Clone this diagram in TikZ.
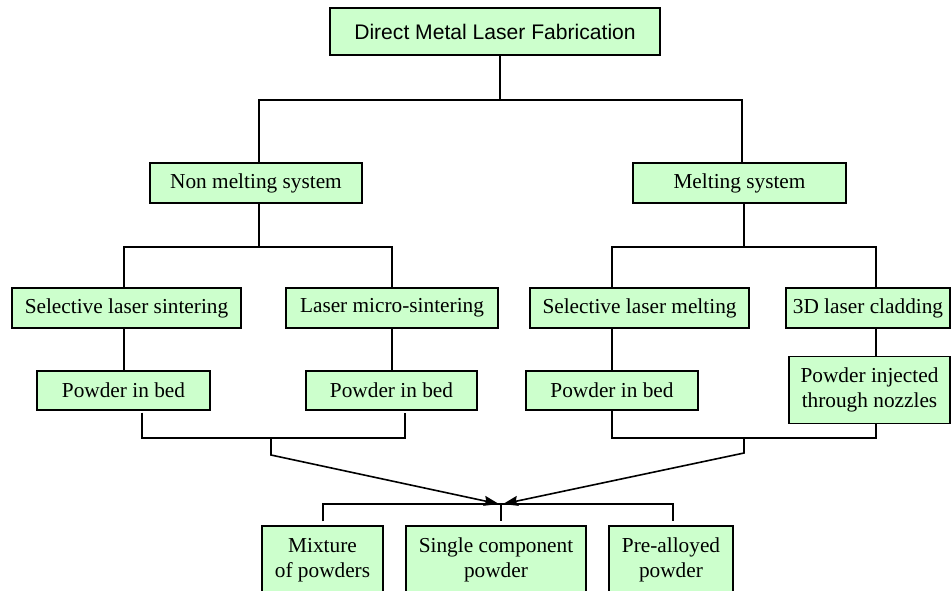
\documentclass[tikz,border=0pt]{standalone}
\usepackage{fontspec}
\setmainfont{Liberation Serif}
\newfontfamily\headfont{Liberation Sans}
\usetikzlibrary{arrows.meta}
\definecolor{boxgreen}{HTML}{CCFFCC}

\begin{document}
\begin{tikzpicture}[
    x=1pt, y=-1pt,
    box/.style={rectangle, draw, fill=boxgreen, line width=1.4pt, inner sep=0pt,
        minimum height=40pt, align=center, font=\fontsize{21.3}{25}\selectfont},
    tallbox/.style={box, minimum height=67pt},
    link/.style={draw, line width=1.6pt},
    arrowstyle/.style={link, -{Stealth[length=15pt, width=10pt, inset=2pt]}}
]
\useasboundingbox (0,0) rectangle (952,590);
\clip (0,0) rectangle (952,590);
% top
\node (Fabrication) [box, minimum width=330pt, minimum height=47pt,
    font=\headfont\fontsize{21.1}{25}\selectfont] at (495,31.5) {Direct Metal Laser Fabrication};
% systems
\node (NonMelting) [box, minimum width=212pt] at (256,183) {Non melting system};
\node (Melting) [box, minimum width=213pt] at (739.5,183) {Melting system};
% processes
\node (Sintering01) [box, minimum width=229pt] at (126.5,308) {Selective laser sintering};
\node (Sintering02) [box, minimum width=212pt] at (392,308) {Laser micro-sintering};
\node (Melting01) [box, minimum width=219pt] at (639.5,308) {Selective laser melting};
\node (Cladding01) [box, minimum width=164pt] at (868,308) {3D laser cladding};
% feeding
\node (Powder01) [box, minimum width=173pt, minimum height=39pt] at (123.5,390.5) {Powder in bed};
\node (Powder02) [box, minimum width=171pt, minimum height=39pt] at (391.5,390.5) {Powder in bed};
\node (Powder03) [box, minimum width=172pt, minimum height=39pt] at (612,390.5) {Powder in bed};
\node (Powder04) [tallbox, minimum width=161pt] at (869.5,390) {Powder injected\\through nozzles};
% materials
\node (Mixture) [tallbox, minimum width=121pt, minimum height=68pt] at (322.5,560) {Mixture\\of powders};
\node (Single) [tallbox, minimum width=180pt, minimum height=68pt] at (496,560) {Single component\\powder};
\node (Alloyed) [tallbox, minimum width=124pt, minimum height=68pt] at (671,560) {Pre-alloyed\\powder};

% tree links
\coordinate (Fork01) at (500,100);
\draw[link] ([xshift=5]Fabrication.south) -- (Fork01);
\draw[link] ([xshift=3]NonMelting.north) |- (Fork01) -| ([xshift=2.5]Melting.north);
\coordinate (Fork02) at (259,247);
\draw[link] ([xshift=3]NonMelting.south) -- (Fork02);
\draw[link] ([xshift=-2.5]Sintering01.north) |- (Fork02) -| (Sintering02.north);
\coordinate (Fork03) at (744,247);
\draw[link] ([xshift=4.5]Melting.south) -- (Fork03);
\draw[link] ([xshift=-27.5]Melting01.north) |- (Fork03) -| ([xshift=8]Cladding01.north);
\draw[link] ([xshift=-2.5]Sintering01.south) -- ([xshift=0.5]Powder01.north);
\draw[link] (Sintering02.south) -- ([xshift=0.5]Powder02.north);
\draw[link] ([xshift=-27.5]Melting01.south) -- (Powder03.north);
\draw[link] ([xshift=8]Cladding01.south) -- ([xshift=6.5]Powder04.north);

% merging into the powders
\coordinate (Merge01) at (271,438);
\coordinate (Merge02) at (744,438);
\coordinate (Junction) at (501,504);
\draw[link] ([xshift=18.5,yshift=-2]Powder01.south) |- (Merge01) -| ([xshift=13.5,yshift=-2]Powder02.south);
\draw[link] (Powder03.south) |- (Merge02) -| ([xshift=6.5]Powder04.south);
\draw[arrowstyle] (Merge01) -- ++(0,17) -- ([xshift=-2]Junction);
\draw[arrowstyle] (Merge02) -- ++(0,15) -- ([xshift=2]Junction);
\draw[link] ([xshift=0.5,yshift=4]Mixture.north) |- (Junction) -| ([xshift=2,yshift=4]Alloyed.north);
\draw[link] (Junction) -- ([xshift=5,yshift=4]Single.north);
\end{tikzpicture}
\end{document}
